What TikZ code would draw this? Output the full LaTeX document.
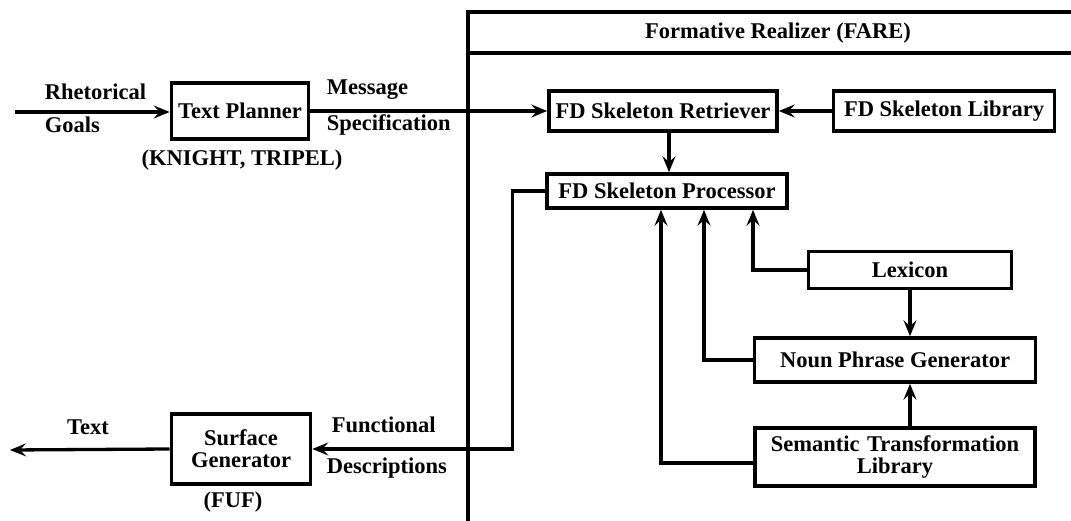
\documentclass[tikz,border=0pt]{standalone}
\usepackage{fontspec}
\setmainfont{Liberation Serif}
\usepackage{tikz}
\usetikzlibrary{arrows.meta}
\usetikzlibrary{positioning}
\usetikzlibrary{calc}
\tikzset{
  % barbed arrow tips as in the original figure
  >={Stealth[length=16pt,width=13pt,inset=6pt]},
  label/.style={font=\fontsize{22.5}{25}\selectfont\bfseries, inner sep=0pt}
}
\begin{document}
\begin{tikzpicture}[x=1pt, y=-1pt, line width=3.6pt]
    % Define styles
    \tikzstyle{block} = [rectangle, draw, font=\fontsize{22.5}{25}\selectfont\bfseries, align=center, inner sep=2pt]
    \tikzstyle{line} = [draw, ->, line width=3.3pt]

    \useasboundingbox (0,0) rectangle (1071,521);

    % Realizer frame
    \draw (1071,12) -- (468,12) -- (468,521);
    \draw (468,53) -- (1071,53);
    \node [label] (fare) at (778,33) {Formative Realizer (FARE)};

    % Place nodes
    \node [block, minimum width=137pt, minimum height=56pt] (planner) at (240,111) {Text Planner};
    \node [block, minimum width=228pt, minimum height=40pt] (retriever) at (663,111) {FD Skeleton Retriever};
    \node [block, minimum width=221pt, minimum height=40pt] (library) at (944,111) {FD Skeleton Library};
    \node [block, minimum width=240pt, minimum height=34pt] (processor) at (667,191) {FD Skeleton Processor};
    \node [block, minimum width=203pt, minimum height=37pt] (lexicon) at (910,270) {Lexicon};
    \node [block, minimum width=281pt, minimum height=44pt] (npg) at (895,360) {Noun Phrase Generator};
    \node [block, minimum width=280pt, minimum height=58pt, text width=270pt] (stl) at (895,457) {Semantic Transformation\\[-3pt] Library};
    \node [block, minimum width=139pt, minimum height=70pt] (surface) at (241,449) {Surface\\[-3pt] Generator};

    % Labels
    \node [label, anchor=west] (rhet) at (43,92) {Rhetorical};
    \node [label, anchor=west] (goals) at (43,125) {Goals};
    \node [label, anchor=west] (msg) at (325,90) {Message};
    \node [label, anchor=west] (spec) at (325,125) {Specification};
    \node [label] (knight) at (242,160) {(KNIGHT, TRIPEL)};
    \node [label] (text) at (88,427) {Text};
    \node [label, anchor=west] (func) at (330,425) {Functional};
    \node [label, anchor=west] (desc) at (325,468) {Descriptions};
    \node [label] (fuf) at (233,502) {(FUF)};

    \coordinate (goalsin) at (15,112);
    \coordinate (textout) at (10,450);

    % Draw edges
    \path [line] (goalsin) -- (goalsin -| planner.west);
    \path [line] (planner.east) -- (retriever.west);
    \path [line] (library) -- (retriever);
    \path [line] ($(retriever.south)+(6,0)$) -- ($(processor.north)+(2,0)$);
    \path [line] (processor.west) -- ++(-33,0) |- (surface.east);
    \path [line] (surface.west) -- (textout);
    \path [line] (lexicon.west) -| ($(processor.south)+(86,0)$);
    \path [line] (npg.west) -| ($(processor.south)+(37,0)$);
    \path [line] ($(stl.west)+(0,6)$) -| ($(processor.south)+(-6,0)$);
    \path [line] (lexicon.south) -- (lexicon.south |- npg.north);
    \path [line] (stl.north -| lexicon.south) -- (npg.south -| lexicon.south);

\end{tikzpicture}
\end{document}
